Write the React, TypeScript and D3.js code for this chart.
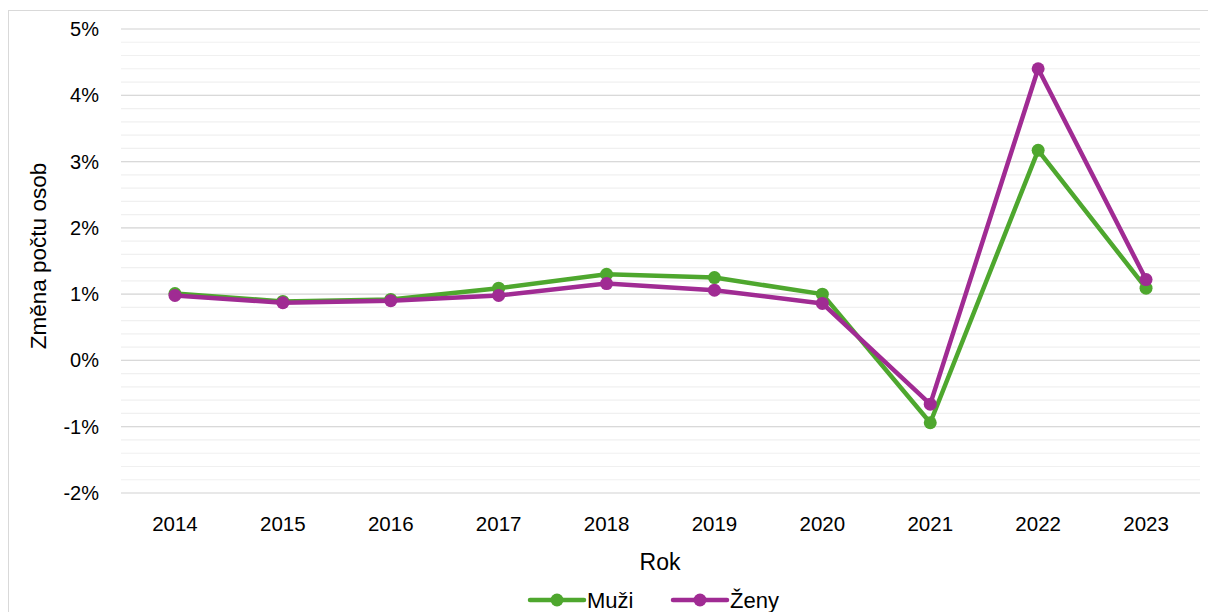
import React from "react";
import * as d3 from "d3";

const years = ["2014", "2015", "2016", "2017", "2018", "2019", "2020", "2021", "2022", "2023"];
const muzi = [1.01, 0.89, 0.92, 1.09, 1.3, 1.25, 1.0, -0.94, 3.17, 1.09];
const zeny = [0.98, 0.87, 0.9, 0.98, 1.16, 1.06, 0.86, -0.66, 4.4, 1.22];
const yTicks = [-2, -1, 0, 1, 2, 3, 4, 5];
const seriesNames = ["Muži", "Ženy"];
const colors = ["#4EA72E", "#A02B93"];

const W = 1208, H = 612;
const left = 121, right = 1200, top = 29, bottom = 493;
const font = "'Liberation Sans', Arial, sans-serif";

export default function App() {
  const x = d3.scaleBand().domain(years).range([left, right]);
  const y = d3.scaleLinear().domain([-2, 5]).range([bottom, top]);
  const minor = d3.range(-2, 5.0001, 0.2).map((v) => Math.round(v * 10) / 10);
  const line = d3
    .line<number>()
    .x((_, i) => (x(years[i]) as number) + x.bandwidth() / 2)
    .y((d) => y(d));
  const data = [muzi, zeny];
  return (
    <svg width={W} height={H} style={{ position: "absolute", left: 0, top: 0 }}>
      <rect x={0} y={0} width={W} height={H} fill="#fff" />
      <rect x={8.5} y={10.5} width={W + 10} height={H + 10} fill="none" stroke="#d9d9d9" strokeWidth={1} />
      {minor.map((v) => (
        <line key={"m" + v} x1={left} x2={right} y1={y(v)} y2={y(v)} stroke="#f0f0f0" strokeWidth={1.2} />
      ))}
      {yTicks.map((v) => (
        <g key={v}>
          <line x1={left} x2={right} y1={y(v)} y2={y(v)} stroke="#d9d9d9" strokeWidth={1.2} />
          <text x={99} y={y(v)} dy="0.35em" textAnchor="end" fontFamily={font} fontSize={20} fill="#000">
            {v + "%"}
          </text>
        </g>
      ))}
      {years.map((yr) => (
        <text key={yr} x={(x(yr) as number) + x.bandwidth() / 2} y={531} textAnchor="middle" fontFamily={font} fontSize={20.5} fill="#000">
          {yr}
        </text>
      ))}
      <text x={660} y={570} textAnchor="middle" fontFamily={font} fontSize={23} fill="#000">Rok</text>
      <text transform={`translate(46,256) rotate(-90)`} textAnchor="middle" fontFamily={font} fontSize={22.5} fill="#000">
        Změna počtu osob
      </text>
      {data.map((s, si) => (
        <g key={si}>
          <path d={line(s) || ""} fill="none" stroke={colors[si]} strokeWidth={4.5} strokeLinejoin="round" />
          {s.map((v, i) => (
            <circle key={i} cx={(x(years[i]) as number) + x.bandwidth() / 2} cy={y(v)} r={6.5} fill={colors[si]} />
          ))}
        </g>
      ))}
      {seriesNames.map((n, i) => {
        const lx = i === 0 ? 530 : 673;
        return (
          <g key={n}>
            <line x1={lx} x2={lx + 54} y1={600} y2={600} stroke={colors[i]} strokeWidth={4.5} strokeLinecap="round" />
            <circle cx={lx + 27} cy={600} r={6.5} fill={colors[i]} />
            <text x={lx + 57} y={600} dy="0.35em" fontFamily={font} fontSize={22} fill="#000">{n}</text>
          </g>
        );
      })}
    </svg>
  );
}
